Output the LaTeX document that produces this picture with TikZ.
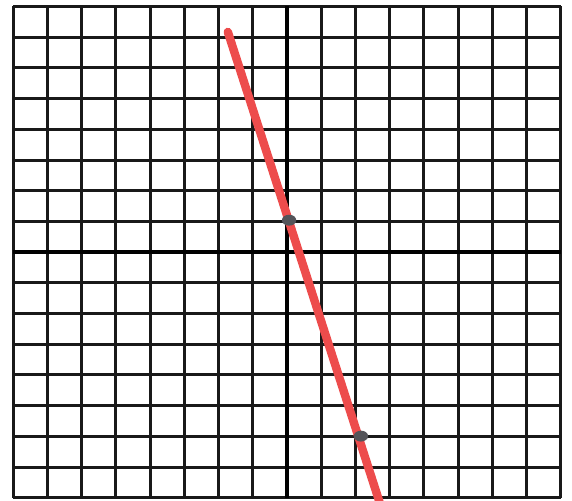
\documentclass[tikz,border=0pt]{standalone}
\usepackage{tikz}
\usetikzlibrary{shapes.geometric,positioning}
\definecolor{penred}{rgb}{.93,.30,.30}
\definecolor{dotgray}{rgb}{.33,.33,.35}

\begin{document}
\begin{tikzpicture}[% grid units: one square is one unit on each axis
			x=1cm, y=0.8977cm,
			gridline/.style={draw=black!90,line width=2.5pt},
			axisline/.style={draw=black,line width=3.7pt},
			pendot/.style={ellipse,fill=dotgray,inner sep=0pt,minimum width=0.42cm,minimum height=0.32cm}
		]
		\useasboundingbox (-8.39,-8.08) rectangle (8.33,8.21);
		% the squared paper
		\foreach \k in {-8,...,8}{
			\draw[gridline] (\k,-8) -- (\k,8);
			\draw[gridline] (-8,\k) -- (8,\k);
		}
		\draw[axisline] (-8,0) -- (8,0);
		\draw[axisline] (0,-8) -- (0,8);
		% the drawn line and its two points
		\coordinate (A) at (-1.73,7.17);
		\coordinate (B) at (2.75,-8.3);
		\draw[penred,line width=7pt,line cap=round] (A) -- (B);
		\node[pendot](P1) at (0.06,1.04){};
		\node[pendot](P2) at (2.16,-5.99){};
	\end{tikzpicture}
\end{document}
